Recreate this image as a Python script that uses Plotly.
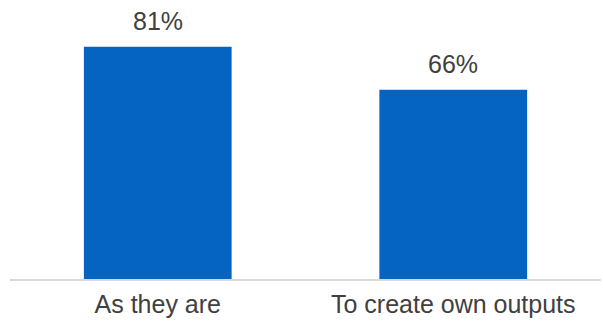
import plotly.graph_objects as go

categories = ["As they are", "To create own outputs"]
values = [81, 66]
value_labels = ["81%", "66%"]

BAR_COLOR = "#0563C1"
TEXT_COLOR = "#404040"
FONT = "Liberation Sans, Arial, sans-serif"

fig = go.Figure(
    go.Bar(
        x=categories,
        y=values,
        marker=dict(color=BAR_COLOR, line=dict(width=0)),
        hoverinfo="skip",
    )
)

# value labels above each bar
for cat, val, lab in zip(categories, values, value_labels):
    fig.add_annotation(
        x=cat, y=val, text=lab, showarrow=False,
        yanchor="bottom", yshift=10,
        font=dict(family=FONT, size=25, color=TEXT_COLOR),
    )

fig.update_layout(
    width=603, height=325,
    margin=dict(l=10, r=2, t=21, b=46),
    paper_bgcolor="white", plot_bgcolor="white",
    bargap=0.5,
    showlegend=False,
    font=dict(family=FONT, size=25, color=TEXT_COLOR),
)
fig.update_xaxes(
    showline=True, linecolor="#d9d9d9", linewidth=1.5,
    showgrid=False, ticks="", ticklabelstandoff=2,
    tickfont=dict(size=25, color=TEXT_COLOR),
)
fig.update_yaxes(
    range=[0, 90], visible=False, showgrid=False, zeroline=False,
)

fig.write_html("out.html")
